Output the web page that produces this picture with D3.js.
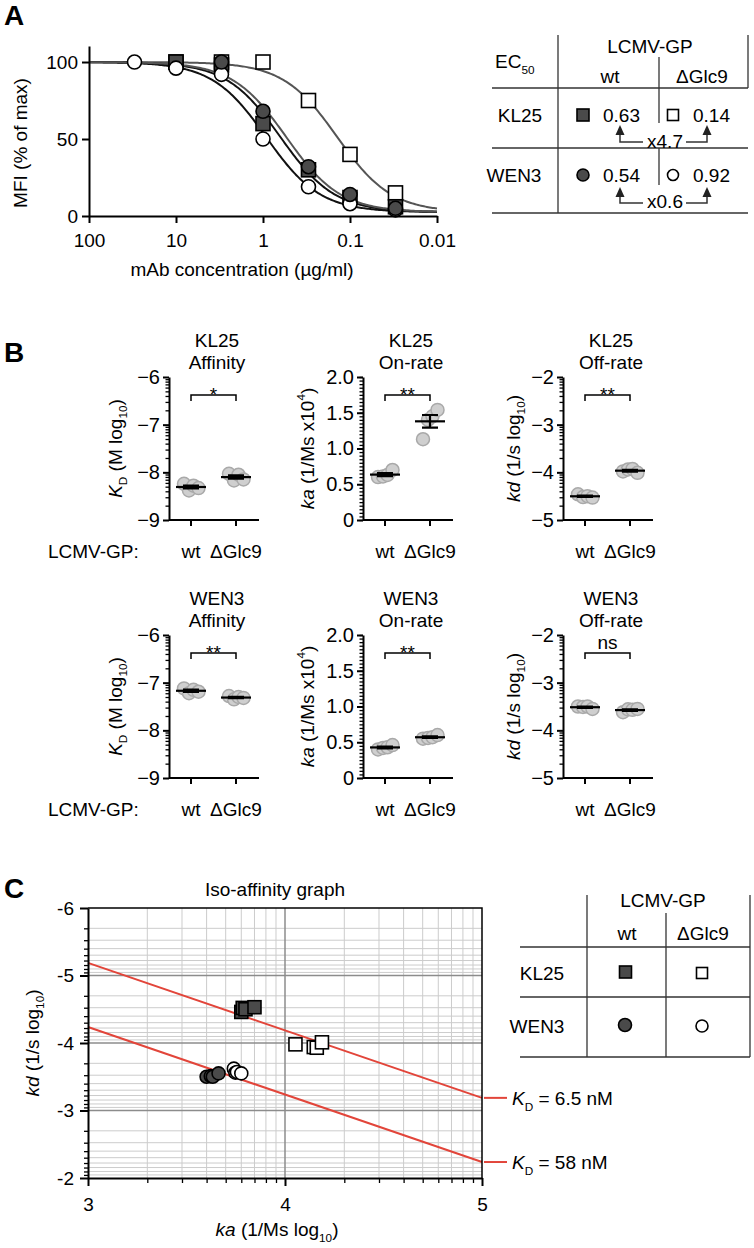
<!DOCTYPE html>
<html><head><meta charset="utf-8">
<script src="https://cdn.jsdelivr.net/npm/d3@7/dist/d3.min.js"></script>
<style>
body{margin:0;background:#fff}
svg text{font-family:"Liberation Sans",Arial,Helvetica,sans-serif;fill:#000}
</style></head><body>
<svg id="fig" width="754" height="1248"></svg>
<script>
// ================= DATA =================
// Panel A: dose-response (MFI % of max) vs mAb concentration (µg/ml)
const concentrations = [30, 10, 3, 1, 0.3, 0.1, 0.03];
const mfiKL25wt    = [null, 100, 98, 60, 30, 12, 6];
const mfiKL25dGlc9 = [null, 100, 100, 100, 75, 40, 15];
const mfiWEN3wt    = [null, null, 100, 68, 32, 14, 5];
const mfiWEN3dGlc9 = [100, 96, 92, 50, 19, 8, 4];
const xTicksA = [100, 10, 1, 0.1, 0.01];
const xTickLabelsA = ["100", "10", "1", "0.1", "0.01"];
const yTicksA = [0, 50, 100];
// EC50 table
const antibodies = ["KL25", "WEN3"];
const variants = ["wt", "ΔGlc9"];
const ec50wt = [0.63, 0.54];
const ec50dGlc9 = [0.14, 0.92];
const foldChange = ["x4.7", "x0.6"];
const fitHill = 1.4;
const fitBottom = 2.5;

// Panel B: replicate values
const affinityKL25wt    = [-8.24, -8.38, -8.28, -8.33];
const affinityKL25dGlc9 = [-8.03, -8.17, -8.05, -8.15];
const onRateKL25wt      = [0.60, 0.61, 0.63, 0.70];
const onRateKL25dGlc9   = [1.13, 1.40, 1.45, 1.54];
const offRateKL25wt     = [-4.46, -4.52, -4.50, -4.53];
const offRateKL25dGlc9  = [-3.98, -3.94, -3.93, -4.01];
const affinityWEN3wt    = [-7.12, -7.22, -7.15, -7.19];
const affinityWEN3dGlc9 = [-7.28, -7.35, -7.30, -7.32];
const onRateWEN3wt      = [0.40, 0.42, 0.43, 0.46];
const onRateWEN3dGlc9   = [0.55, 0.56, 0.57, 0.60];
const offRateWEN3wt     = [-3.50, -3.51, -3.50, -3.55];
const offRateWEN3dGlc9  = [-3.62, -3.56, -3.57, -3.55];
const measures = ["Affinity", "On-rate", "Off-rate"];
const significance = [["*", "**", "**"], ["**", "**", "ns"]];
const affinityTicks = [-9, -8, -7, -6];
const onRateTicks = [0, 0.5, 1, 1.5, 2];
const onRateTickLabels = ["0", "0.5", "1.0", "1.5", "2.0"];
const offRateTicks = [-5, -4, -3, -2];

// Panel C
const isoKDnM = [6.5, 58];
const isoKDLabels = ["= 6.5 nM", "= 58 nM"];
const xTicksC = [3, 4, 5];
const yTicksC = [-6, -5, -4, -3, -2];

// ================= DRAW =================
const svg = d3.select("#fig");
const FS = 19;
const DARK = "#4a4a4a";

function rich(textSel, parts, size) {
  let shift = 0;
  parts.forEach(p => {
    const ts = textSel.append("tspan").text(p.t);
    const target = p.sub ? size * 0.3 : (p.sup ? -size * 0.45 : 0);
    if (target - shift !== 0) ts.attr("dy", target - shift);
    shift = target;
    if (p.sub || p.sup) ts.attr("font-size", size * 0.62);
    if (p.i) ts.attr("font-style", "italic");
  });
}
function txt(g, x, y, s, anchor = "middle", size = FS) {
  return g.append("text").attr("x", x).attr("y", y).attr("text-anchor", anchor)
    .attr("font-size", size).text(s);
}
function styleAxis(ax, sw = 2) {
  ax.attr("font-family", null).attr("font-size", null);
  ax.selectAll("path,line").attr("stroke", "#000").attr("stroke-width", sw);
  ax.selectAll("text").attr("font-size", FS).attr("fill", "#000");
}
function marker(g, shape, fill, x, y, size) {
  if (shape === "square") {
    g.append("rect").attr("x", x - size / 2).attr("y", y - size / 2)
      .attr("width", size).attr("height", size)
      .attr("fill", fill).attr("stroke", "#000").attr("stroke-width", 1.6);
  } else {
    g.append("circle").attr("cx", x).attr("cy", y).attr("r", size / 2)
      .attr("fill", fill).attr("stroke", "#000").attr("stroke-width", 1.6);
  }
}
function logMinor(lo, hi) {
  const out = [];
  for (let d = lo; d < hi; d++) for (let k = 2; k <= 9; k++) out.push(d + Math.log10(k));
  return out;
}

// panel letters
[["A", 25], ["B", 362], ["C", 898]].forEach(([l, y]) =>
  svg.append("text").attr("x", 4).attr("y", y).attr("font-size", 28).attr("font-weight", "bold").text(l));

// ---------- Panel A ----------
const gA = svg.append("g");
const xA = d3.scaleLog().domain([100, 0.01]).range([89, 437]);
const yA = d3.scaleLinear().domain([0, 110.4]).range([216, 46]);

const seriesA = [
  { values: mfiKL25dGlc9, ec50: ec50dGlc9[0], shape: "square", fill: "#fff", curve: "#555" },
  { values: mfiKL25wt, ec50: ec50wt[0], shape: "square", fill: DARK, curve: "#111" },
  { values: mfiWEN3dGlc9, ec50: ec50dGlc9[1], shape: "circle", fill: "#fff", curve: "#111" },
  { values: mfiWEN3wt, ec50: ec50wt[1], shape: "circle", fill: DARK, curve: "#555" }
];
const curveConc = d3.range(0, 241).map(i => Math.pow(10, 2 - 4 * i / 240));
const fit = (c, ec50) => fitBottom + (100 - fitBottom) / (1 + Math.pow(ec50 / c, fitHill));
const lineA = d3.line().x(d => xA(d[0])).y(d => yA(d[1]));
seriesA.forEach(s => {
  gA.append("path").attr("d", lineA(curveConc.map(c => [c, fit(c, s.ec50)])))
    .attr("fill", "none").attr("stroke", s.curve).attr("stroke-width", 2);
});
seriesA.forEach(s => {
  concentrations.forEach((c, i) => {
    if (s.values[i] == null) return;
    marker(gA, s.shape, s.fill, xA(c), yA(s.values[i]), 14);
  });
});
const axYA = gA.append("g").attr("transform", "translate(89,0)")
  .call(d3.axisLeft(yA).tickValues(yTicksA).tickSize(7).tickSizeOuter(0).tickPadding(4));
const axXA = gA.append("g").attr("transform", "translate(0,216)")
  .call(d3.axisBottom(xA).tickValues(xTicksA).tickFormat((d, i) => xTickLabelsA[i])
    .tickSize(7).tickSizeOuter(0).tickPadding(11));
styleAxis(axYA); styleAxis(axXA);
txt(gA, 242, 276, "mAb concentration (µg/ml)");
gA.append("text").attr("transform", "translate(20,143) rotate(-90)").attr("text-anchor", "middle")
  .attr("dy", "0.35em").attr("font-size", FS).text("MFI (% of max)");

// EC50 table
const gT = svg.append("g");
const tl = (x1, y1, x2, y2) => gT.append("line").attr("x1", x1).attr("y1", y1).attr("x2", x2).attr("y2", y2)
  .attr("stroke", "#333").attr("stroke-width", 1.3);
tl(558, 35, 558, 213); tl(748, 35, 748, 88);
tl(492, 88, 748, 88); tl(492, 148, 748, 148); tl(492, 213, 748, 213);
tl(659, 57, 659, 123); tl(659, 148, 659, 185);
rich(gT.append("text").attr("x", 495).attr("y", 68).attr("font-size", FS), [{ t: "EC" }, { t: "50", sub: 1 }], FS);
txt(gT, 650, 53, "LCMV-GP");
txt(gT, 610, 83, variants[0]); txt(gT, 702, 83, variants[1]);
const rowBase = [122, 182], arrowY = [142, 203], arrowTip = [125, 187], foldBase = [148, 208];
antibodies.forEach((ab, r) => {
  txt(gT, r === 0 ? 520 : 514, rowBase[r], ab);
  const shape = r === 0 ? "square" : "circle";
  marker(gT, shape, DARK, 583, rowBase[r] - 7, r === 0 ? 12 : 12);
  marker(gT, shape, "#fff", 673, rowBase[r] - 7, r === 0 ? 11 : 11);
  txt(gT, 603, rowBase[r], d3.format(".2f")(ec50wt[r]), "start");
  txt(gT, 693, rowBase[r], d3.format(".2f")(ec50dGlc9[r]), "start");
  // arrows
  const ay = arrowY[r], tip = arrowTip[r];
  gT.append("path").attr("d", `M643,${ay}H620V${tip + 8}M686,${ay}H707V${tip + 8}`)
    .attr("fill", "none").attr("stroke", "#333").attr("stroke-width", 1.5);
  [620, 707].forEach(ax => gT.append("path")
    .attr("d", `M${ax},${tip}L${ax - 4.5},${tip + 10}L${ax + 4.5},${tip + 10}Z`).attr("fill", "#222"));
  txt(gT, 665, foldBase[r], foldChange[r]);
});

// ---------- Panel B ----------
const gB = svg.append("g");
const colX = [169, 363, 563];
const rowTop = [377, 635];
const axisH = 143, axisW = 90, catOff = [22, 67];
const yLabelX = [115, 307, 513];
const bData = [
  [[affinityKL25wt, affinityKL25dGlc9], [onRateKL25wt, onRateKL25dGlc9], [offRateKL25wt, offRateKL25dGlc9]],
  [[affinityWEN3wt, affinityWEN3dGlc9], [onRateWEN3wt, onRateWEN3dGlc9], [offRateWEN3wt, offRateWEN3dGlc9]]
];
const bAxes = [
  { domain: [-9, -6], ticks: affinityTicks, fmt: d => "\u2212" + Math.abs(d), minor: logMinor(-9, -6),
    label: [{ t: "K", i: 1 }, { t: "D", sub: 1 }, { t: " (M log" }, { t: "10", sub: 1 }, { t: ")" }] },
  { domain: [0, 2], ticks: onRateTicks, fmt: (d, i) => onRateTickLabels[i], minor: d3.range(0, 2.001, 0.05),
    label: [{ t: "ka", i: 1 }, { t: " (1/Ms x10" }, { t: "4", sup: 1 }, { t: ")" }] },
  { domain: [-5, -2], ticks: offRateTicks, fmt: d => "\u2212" + Math.abs(d), minor: logMinor(-5, -2),
    label: [{ t: "kd", i: 1 }, { t: " (1/s log" }, { t: "10", sub: 1 }, { t: ")" }] }
];
const jitter = [-7, -2, 2.5, 7.5];

antibodies.forEach((ab, r) => {
  const top = rowTop[r], bottom = top + axisH;
  txt(gB, 48, bottom + 38, "LCMV-GP:", "start");
  measures.forEach((m, c) => {
    const x0 = colX[c], cfg = bAxes[c];
    const g = gB.append("g");
    const y = d3.scaleLinear().domain(cfg.domain).range([bottom, top]);
    const xCat = d3.scalePoint().domain(variants).range([x0 + catOff[0], x0 + catOff[1]]);
    // titles
    txt(g, x0 + 48, top - 30, ab);
    txt(g, x0 + 48, top - 8, m);
    // minor ticks
    const axMin = g.append("g").attr("transform", `translate(${x0},0)`)
      .call(d3.axisLeft(y).tickValues(cfg.minor).tickSize(3.5).tickFormat(""));
    axMin.select(".domain").remove();
    axMin.selectAll("line").attr("stroke", "#000").attr("stroke-width", 1.3);
    const axY = g.append("g").attr("transform", `translate(${x0},0)`)
      .call(d3.axisLeft(y).tickValues(cfg.ticks).tickFormat(cfg.fmt).tickSize(6).tickSizeOuter(0).tickPadding(3));
    styleAxis(axY);
    axY.selectAll("text").attr("font-size", 20);
    // x axis
    g.append("line").attr("x1", x0).attr("x2", x0 + axisW).attr("y1", bottom).attr("y2", bottom)
      .attr("stroke", "#000").attr("stroke-width", 2);
    variants.forEach(v => {
      g.append("line").attr("x1", xCat(v)).attr("x2", xCat(v)).attr("y1", bottom).attr("y2", bottom + 6)
        .attr("stroke", "#000").attr("stroke-width", 2);
      txt(g, xCat(v), bottom + 38, v);
    });
    // y label
    rich(g.append("text").attr("transform", `translate(${yLabelX[c]},${(top + bottom) / 2}) rotate(-90)`)
      .attr("text-anchor", "middle").attr("dy", "0.35em").attr("font-size", FS), cfg.label, FS);
    // points
    variants.forEach((v, vi) => {
      const vals = bData[r][c][vi];
      vals.forEach((val, k) => {
        g.append("circle").attr("cx", xCat(v) + jitter[k]).attr("cy", y(val)).attr("r", 6.5)
          .attr("fill", "#cfcfcf").attr("stroke", "#a9a9a9").attr("stroke-width", 1.5);
      });
      const mean = d3.mean(vals), sem = d3.deviation(vals) / Math.sqrt(vals.length);
      const cx = xCat(v);
      g.append("line").attr("x1", cx - 15).attr("x2", cx + 15).attr("y1", y(mean)).attr("y2", y(mean))
        .attr("stroke", "#000").attr("stroke-width", 2.2);
      g.append("path").attr("d", `M${cx - 8},${y(mean + sem)}H${cx + 8}M${cx},${y(mean + sem)}V${y(mean - sem)}M${cx - 8},${y(mean - sem)}H${cx + 8}`)
        .attr("fill", "none").attr("stroke", "#000").attr("stroke-width", 2.2);
    });
    // significance bracket
    const by = top + 18;
    g.append("path").attr("d", `M${xCat(variants[0])},${by + 6}V${by}H${xCat(variants[1])}V${by + 6}`)
      .attr("fill", "none").attr("stroke", "#000").attr("stroke-width", 1.5);
    const s = significance[r][c];
    txt(g, (xCat(variants[0]) + xCat(variants[1])) / 2, s === "ns" ? by - 4 : by + 6, s);
  });
});

// ---------- Panel C ----------
const gC = svg.append("g");
const xC = d3.scaleLinear().domain([3, 5]).range([88, 482]);
const yC = d3.scaleLinear().domain([-6, -2]).range([908, 1178]);
// minor grid
logMinor(3, 5).forEach(v => gC.append("line").attr("x1", xC(v)).attr("x2", xC(v)).attr("y1", 908).attr("y2", 1178)
  .attr("stroke", "#cccccc").attr("stroke-width", 1));
logMinor(-6, -2).forEach(v => gC.append("line").attr("y1", yC(v)).attr("y2", yC(v)).attr("x1", 88).attr("x2", 482)
  .attr("stroke", "#cccccc").attr("stroke-width", 1));
// major grid
[4].forEach(v => gC.append("line").attr("x1", xC(v)).attr("x2", xC(v)).attr("y1", 908).attr("y2", 1178)
  .attr("stroke", "#8c8c8c").attr("stroke-width", 1.5));
[-5, -4, -3].forEach(v => gC.append("line").attr("y1", yC(v)).attr("y2", yC(v)).attr("x1", 88).attr("x2", 482)
  .attr("stroke", "#8c8c8c").attr("stroke-width", 1.5));
// iso-affinity lines
isoKDnM.forEach((kd, i) => {
  const logKD = Math.log10(kd * 1e-9);
  gC.append("line").attr("x1", xC(3)).attr("y1", yC(logKD + 3)).attr("x2", xC(5)).attr("y2", yC(logKD + 5))
    .attr("stroke", "#e2453a").attr("stroke-width", 2);
  const ly = yC(logKD + 5);
  gC.append("line").attr("x1", 484).attr("x2", 507).attr("y1", ly).attr("y2", ly)
    .attr("stroke", "#e2453a").attr("stroke-width", 2);
  rich(gC.append("text").attr("x", 512).attr("y", ly + 7).attr("font-size", FS),
    [{ t: "K", i: 1 }, { t: "D", sub: 1 }, { t: " " + isoKDLabels[i] }], FS);
});
// points
const seriesC = [
  { ka: onRateKL25wt, kd: offRateKL25wt, shape: "square", fill: DARK },
  { ka: onRateKL25dGlc9, kd: offRateKL25dGlc9, shape: "square", fill: "#fff" },
  { ka: onRateWEN3wt, kd: offRateWEN3wt, shape: "circle", fill: DARK },
  { ka: onRateWEN3dGlc9, kd: offRateWEN3dGlc9, shape: "circle", fill: "#fff" }
];
seriesC.forEach(s => s.ka.forEach((ka, i) =>
  marker(gC, s.shape, s.fill, xC(Math.log10(ka * 1e4)), yC(s.kd[i]), 13)));
// frame
gC.append("path").attr("d", "M88,908H482V1178").attr("fill", "none").attr("stroke", "#000").attr("stroke-width", 1.5);
// axes
const cMinY = gC.append("g").attr("transform", "translate(88,0)")
  .call(d3.axisLeft(yC).tickValues(logMinor(-6, -2)).tickSize(4).tickFormat(""));
cMinY.select(".domain").remove(); cMinY.selectAll("line").attr("stroke", "#000").attr("stroke-width", 1.3);
const cMinX = gC.append("g").attr("transform", "translate(0,1178)")
  .call(d3.axisBottom(xC).tickValues(logMinor(3, 5)).tickSize(5).tickFormat(""));
cMinX.select(".domain").remove(); cMinX.selectAll("line").attr("stroke", "#000").attr("stroke-width", 1.3);
const cY = gC.append("g").attr("transform", "translate(88,0)")
  .call(d3.axisLeft(yC).tickValues(yTicksC).tickFormat(d => "-" + Math.abs(d)).tickSize(8).tickSizeOuter(0).tickPadding(6));
const cX = gC.append("g").attr("transform", "translate(0,1178)")
  .call(d3.axisBottom(xC).tickValues(xTicksC).tickFormat(d => String(d)).tickSize(8).tickSizeOuter(0).tickPadding(12));
styleAxis(cY); styleAxis(cX);
txt(gC, 275, 896, "Iso-affinity graph");
rich(gC.append("text").attr("x", 277).attr("y", 1236).attr("text-anchor", "middle").attr("font-size", FS),
  [{ t: "ka", i: 1 }, { t: " (1/Ms log" }, { t: "10", sub: 1 }, { t: ")" }], FS);
rich(gC.append("text").attr("transform", "translate(32,1043) rotate(-90)").attr("text-anchor", "middle")
  .attr("dy", "0.35em").attr("font-size", FS),
  [{ t: "kd", i: 1 }, { t: " (1/s log" }, { t: "10", sub: 1 }, { t: ")" }], FS);

// legend table C
const gL = svg.append("g");
const ll = (x1, y1, x2, y2) => gL.append("line").attr("x1", x1).attr("y1", y1).attr("x2", x2).attr("y2", y2)
  .attr("stroke", "#333").attr("stroke-width", 1.3);
ll(587, 895, 587, 1057); ll(666, 913, 666, 1057); ll(750, 895, 750, 1057);
ll(520, 947, 750, 947); ll(520, 997, 750, 997); ll(520, 1057, 750, 1057);
txt(gL, 663, 907, "LCMV-GP");
txt(gL, 627, 940, variants[0]); txt(gL, 703, 940, variants[1]);
txt(gL, 542, 980, antibodies[0]); txt(gL, 537, 1033, antibodies[1]);
marker(gL, "square", DARK, 625.5, 972, 12);
marker(gL, "square", "#fff", 702, 973, 11);
marker(gL, "circle", DARK, 625, 1025, 13);
marker(gL, "circle", "#fff", 702, 1026, 12);
</script></body></html>
